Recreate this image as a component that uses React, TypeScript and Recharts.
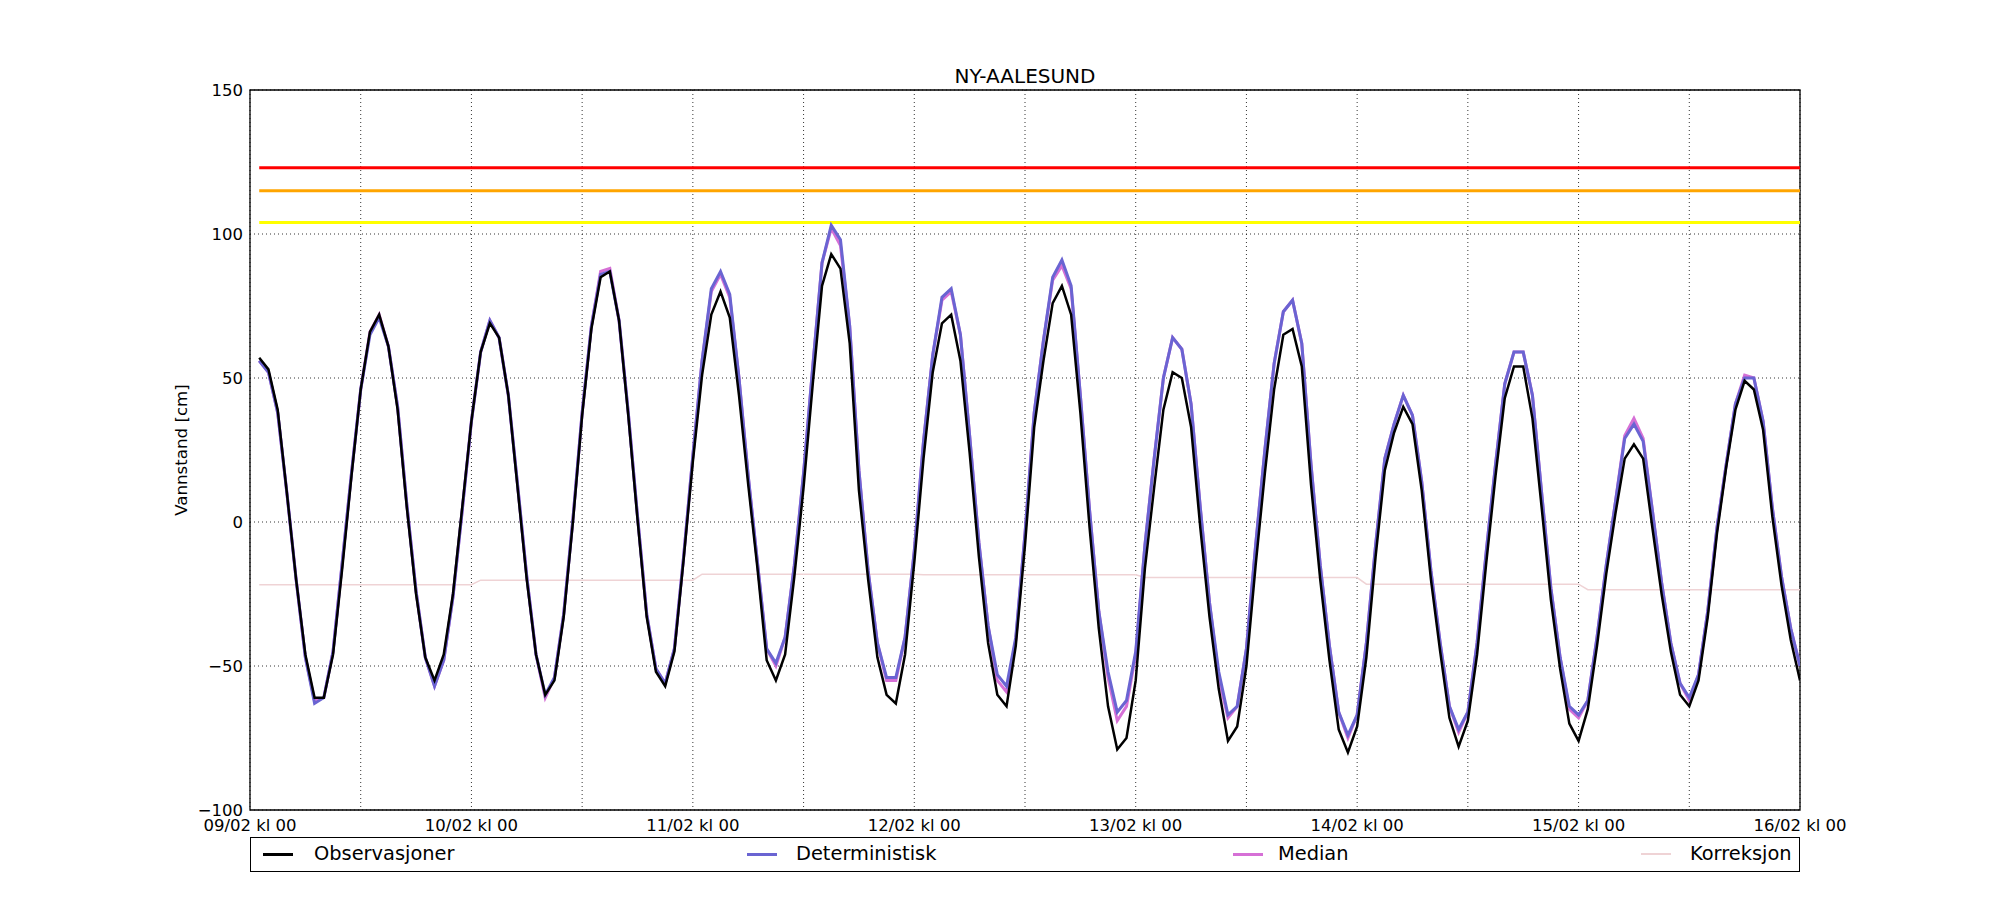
import React from 'react';
import { LineChart, Line, XAxis, YAxis, CartesianGrid, ReferenceArea, Legend } from 'recharts';

const chartTitle = 'NY-AALESUND';
const yAxisLabel = 'Vannstand [cm]';

// hours since 09/02 kl 00 (hourly values from 01 to 16/02 kl 00)
const hours: number[] = Array.from({ length: 168 }, (_, i) => i + 1);

const xTicks = [0, 12, 24, 36, 48, 60, 72, 84, 96, 108, 120, 132, 144, 156, 168];
const xTickLabels = [
  '09/02 kl 00', '', '10/02 kl 00', '', '11/02 kl 00', '', '12/02 kl 00', '',
  '13/02 kl 00', '', '14/02 kl 00', '', '15/02 kl 00', '', '16/02 kl 00',
];
const yTicks = [-100, -50, 0, 50, 100, 150];

const observasjoner = [
  57, 53, 39, 10, -20, -46, -61, -61, -46, -16,
  16, 46, 66, 72, 61, 39, 5, -25, -47, -55,
  -46, -25, 5, 35, 59, 69, 64, 44, 12, -20,
  -46, -60, -55, -33, 0, 37, 67, 85, 87, 70,
  37, 1, -33, -52, -57, -45, -13, 21, 51, 72,
  80, 71, 44, 13, -16, -48, -55, -46, -19, 12,
  48, 82, 93, 88, 62, 11, -20, -47, -60, -63,
  -46, -14, 22, 52, 69, 72, 56, 24, -12, -42,
  -60, -64, -43, -8, 33, 56, 76, 82, 72, 38,
  -2, -37, -64, -79, -75, -55, -16, 12, 39, 52,
  50, 33, -2, -33, -58, -76, -71, -50, -15, 17,
  46, 65, 67, 54, 13, -20, -48, -72, -80, -71,
  -47, -12, 18, 31, 40, 34, 11, -20, -45, -68,
  -78, -69, -46, -14, 16, 43, 54, 54, 36, 5,
  -27, -51, -70, -76, -65, -43, -18, 3, 22, 27,
  22, -2, -25, -45, -60, -64, -55, -33, -4, 19,
  39, 49, 46, 32, 2, -22, -41, -55,
];

const deterministisk = [
  56, 52, 38, 10, -20, -47, -63, -61, -45, -14,
  17, 46, 65, 71, 61, 40, 6, -24, -47, -57,
  -48, -26, 4, 35, 59, 70, 64, 44, 13, -19,
  -46, -60, -54, -32, 1, 38, 68, 86, 87, 70,
  38, 2, -32, -51, -56, -44, -12, 23, 56, 81,
  87, 79, 50, 16, -14, -44, -49, -40, -15, 17,
  54, 90, 103, 98, 68, 18, -17, -42, -54, -54,
  -40, -10, 28, 58, 78, 81, 65, 30, -7, -36,
  -53, -57, -40, -4, 38, 63, 85, 91, 82, 44,
  4, -31, -52, -66, -62, -45, -8, 22, 50, 64,
  60, 41, 5, -28, -52, -67, -64, -44, -8, 25,
  55, 73, 77, 62, 20, -15, -43, -66, -74, -67,
  -42, -8, 22, 34, 44, 37, 14, -17, -42, -64,
  -72, -66, -42, -10, 20, 48, 59, 59, 44, 10,
  -23, -47, -64, -67, -62, -40, -15, 7, 29, 34,
  28, 4, -21, -42, -56, -61, -53, -31, -2, 20,
  41, 50, 50, 35, 5, -19, -37, -50,
];

const median = [
  56, 52, 38, 10, -20, -47, -62, -61, -45, -14,
  17, 46, 66, 72, 61, 40, 6, -24, -47, -57,
  -48, -26, 4, 35, 59, 70, 64, 44, 13, -19,
  -46, -61, -54, -32, 1, 38, 68, 87, 88, 70,
  38, 2, -32, -51, -56, -44, -12, 23, 56, 80,
  86, 78, 50, 16, -14, -44, -50, -40, -15, 17,
  54, 90, 102, 96, 68, 18, -17, -42, -55, -55,
  -40, -10, 28, 58, 77, 80, 65, 30, -7, -36,
  -55, -59, -41, -4, 38, 63, 84, 89, 81, 44,
  4, -31, -54, -69, -64, -46, -8, 22, 50, 64,
  60, 41, 5, -28, -54, -68, -64, -44, -8, 25,
  55, 73, 77, 62, 20, -15, -43, -66, -75, -67,
  -42, -8, 22, 34, 44, 37, 14, -17, -42, -64,
  -73, -66, -42, -10, 20, 48, 59, 59, 44, 10,
  -23, -47, -65, -68, -62, -40, -15, 7, 30, 36,
  29, 4, -21, -42, -56, -62, -53, -31, -2, 20,
  41, 51, 50, 35, 5, -19, -37, -50,
];

// correction level for each day block (01..24, 25..48, ...)
const korreksjonPerDay = [-21.8, -20.2, -18.1, -18.3, -19.3, -21.6, -23.5];

// warning levels
const levelRed = 123;
const levelOrange = 115;
const levelYellow = 104;

const seriesInfo = [
  { key: 'obs', name: 'Observasjoner', color: '#000000' },
  { key: 'det', name: 'Deterministisk', color: '#6a64d2' },
  { key: 'med', name: 'Median', color: '#d670d6' },
  { key: 'kor', name: 'Korreksjon', color: '#efd3d5' },
];

const data = hours.map((h, i) => ({
  h,
  obs: observasjoner[i],
  det: deterministisk[i],
  med: median[i],
  kor: korreksjonPerDay[Math.floor(i / 24)],
  red: levelRed,
  orange: levelOrange,
  yellow: levelYellow,
}));

const FONT = 'DejaVu Sans';

const legendLayout = [
  { lineX: 12, textX: 63 },
  { lineX: 496, textX: 545 },
  { lineX: 982, textX: 1027 },
  { lineX: 1390, textX: 1439 },
];

const renderLegend = () => (
  <div
    style={{
      position: 'relative',
      width: 1550,
      height: 35,
      border: '1.3px solid #000',
      boxSizing: 'border-box',
      background: '#fff',
      fontFamily: FONT,
    }}
  >
    {seriesInfo.map((s, i) => (
      <React.Fragment key={s.key}>
        <div
          style={{
            position: 'absolute',
            left: legendLayout[i].lineX,
            top: 15,
            width: 30,
            height: s.key === 'kor' ? 2 : 3,
            background: s.color,
          }}
        />
        <span
          style={{
            position: 'absolute',
            left: legendLayout[i].textX,
            top: 0,
            lineHeight: '32px',
            fontSize: 19.4,
            color: '#000',
            whiteSpace: 'nowrap',
          }}
        >
          {s.name}
        </span>
      </React.Fragment>
    ))}
  </div>
);

const fmtY = (v: number) => String(v).replace('-', '\u2212');
const fmtX = (v: number) => xTickLabels[xTicks.indexOf(v)] ?? '';

export default function App() {
  const W = 1984;
  const H = 884;
  const color = (k: string) => seriesInfo.find((s) => s.key === k)!.color;
  return (
    <div style={{ position: 'relative', width: W, height: H, background: '#fff', fontFamily: FONT }}>
      <LineChart
        width={W}
        height={H}
        data={data}
        margin={{ top: 82, right: 192, left: 182, bottom: 52 }}
      >
        <CartesianGrid stroke="#000" strokeDasharray="1 3" strokeWidth={0.8} />
        <XAxis
          dataKey="h"
          type="number"
          domain={[0, 168]}
          ticks={xTicks}
          interval={0}
          tickFormatter={fmtX}
          axisLine={false}
          tickLine={false}
          tickSize={0}
          tickMargin={9}
          height={30}
          allowDataOverflow
          tick={{ fill: '#000', fontSize: 16.5, fontFamily: FONT }}
        />
        <YAxis
          type="number"
          domain={[-100, 150]}
          ticks={yTicks}
          interval={0}
          tickFormatter={fmtY}
          axisLine={false}
          tickLine={false}
          tickSize={0}
          tickMargin={7}
          width={60}
          allowDataOverflow
          tick={{ fill: '#000', fontSize: 16.5, fontFamily: FONT }}
        />
        <Line dataKey="red" stroke="#ff0000" strokeWidth={3} dot={false} isAnimationActive={false} legendType="none" />
        <Line dataKey="orange" stroke="#ffa500" strokeWidth={3} dot={false} isAnimationActive={false} legendType="none" />
        <Line dataKey="yellow" stroke="#ffff00" strokeWidth={3} dot={false} isAnimationActive={false} legendType="none" />
        <Line dataKey="kor" name="Korreksjon" stroke={color('kor')} strokeWidth={1.5} dot={false} isAnimationActive={false} />
        <Line dataKey="med" name="Median" stroke={color('med')} strokeWidth={3} dot={false} isAnimationActive={false} />
        <Line dataKey="det" name="Deterministisk" stroke={color('det')} strokeWidth={3} dot={false} isAnimationActive={false} />
        <Line dataKey="obs" name="Observasjoner" stroke={color('obs')} strokeWidth={2.5} dot={false} isAnimationActive={false} />
        <ReferenceArea x1={0} x2={168} y1={-100} y2={150} fill="none" stroke="#000" strokeWidth={1.3} ifOverflow="visible" />
        <Legend
          layout="horizontal"
          verticalAlign="middle"
          align="center"
          content={renderLegend}
          wrapperStyle={{ left: 242, top: 829, width: 1550, height: 35 }}
        />
      </LineChart>
      <svg
        width={W}
        height={H}
        style={{ position: 'absolute', left: 0, top: 0, pointerEvents: 'none' }}
      >
        <text x={1017} y={75} textAnchor="middle" fontFamily={FONT} fontSize={20} fill="#000">
          {chartTitle}
        </text>
        <text
          x={179}
          y={442}
          textAnchor="middle"
          fontFamily={FONT}
          fontSize={16.67}
          fill="#000"
          transform="rotate(-90 179 442)"
        >
          {yAxisLabel}
        </text>
      </svg>
    </div>
  );
}
